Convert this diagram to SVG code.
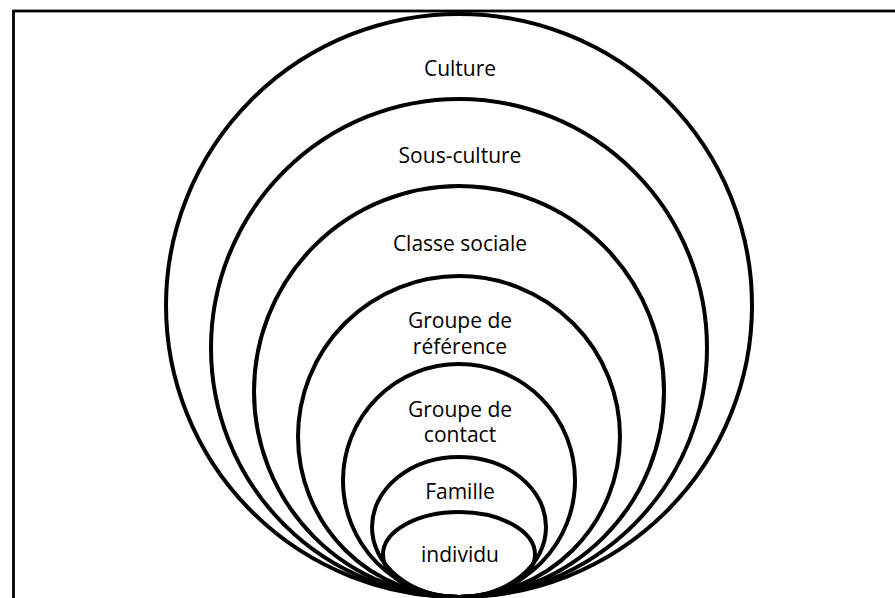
<svg xmlns="http://www.w3.org/2000/svg" width="895" height="598" viewBox="0 0 895 598">
<style>
.ring{fill:none;stroke:#000;stroke-width:4}
.lbl{font-family:"Open Sans","Liberation Sans",sans-serif;font-size:21px;fill:#000;text-anchor:middle}
</style>
<rect x="0" y="0" width="895" height="598" fill="#fff"/>
<rect id="frame" x="13.5" y="11" width="900" height="620" fill="none" stroke="#000" stroke-width="2.8"/>
<g id="culture"><ellipse class="ring" cx="459" cy="305.5" rx="293" ry="291.5"/><text class="lbl" x="460" y="76">Culture</text></g>
<g id="sous-culture"><ellipse class="ring" cx="459" cy="348" rx="248" ry="249"/><text class="lbl" x="460" y="163">Sous-culture</text></g>
<g id="classe-sociale"><ellipse class="ring" cx="459" cy="391.5" rx="205" ry="205.5"/><text class="lbl" x="460" y="251">Classe sociale</text></g>
<g id="groupe-reference"><ellipse class="ring" cx="459" cy="436.5" rx="161" ry="160.5"/><text class="lbl" x="460" y="328"><tspan x="460">Groupe de</tspan><tspan x="460" dy="25.6">référence</tspan></text></g>
<g id="groupe-contact"><ellipse class="ring" cx="459" cy="480.5" rx="116" ry="116.5"/><text class="lbl" x="460" y="416.6"><tspan x="460">Groupe de</tspan><tspan x="460" dy="25.6">contact</tspan></text></g>
<g id="famille"><ellipse class="ring" cx="459" cy="527" rx="87" ry="70"/><text class="lbl" x="460" y="499">Famille</text></g>
<g id="individu"><ellipse class="ring" cx="459" cy="554.5" rx="76" ry="42.5"/><text class="lbl" x="460" y="562">individu</text></g>
<g id="connectors"/>
</svg>
